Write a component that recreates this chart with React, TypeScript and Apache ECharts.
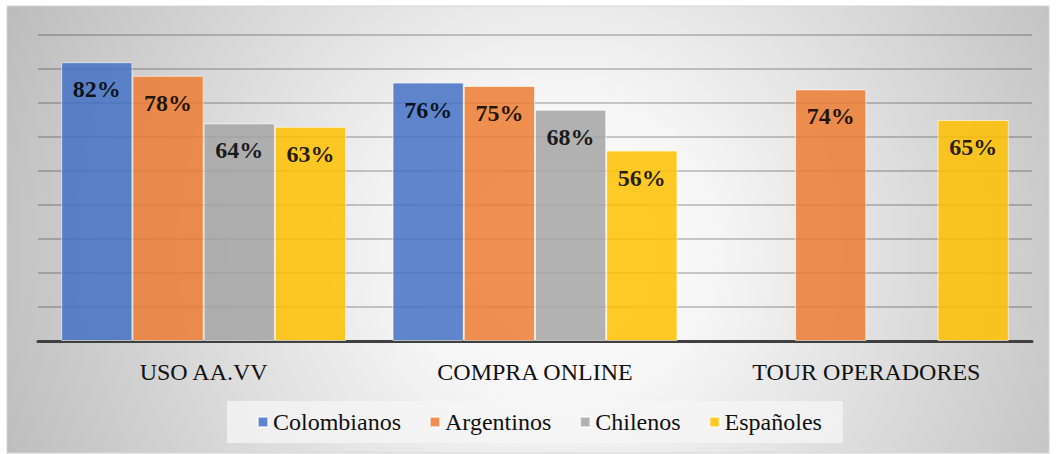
import React, { useEffect, useRef } from "react";
import * as echarts from "echarts";

const categories = ["USO AA.VV", "COMPRA ONLINE", "TOUR OPERADORES"];
const colombianos = [82, 76, null];
const argentinos = [78, 75, 74];
const chilenos = [64, 68, null];
const espanoles = [63, 56, 65];
const seriesNames = ["Colombianos", "Argentinos", "Chilenos", "Españoles"];
const colors = ["#4472C4", "#ED7D31", "#A5A5A5", "#FFC000"];

const FONT = "Liberation Serif";

export default function App() {
  const ref = useRef<HTMLDivElement>(null);
  useEffect(() => {
    document.body.style.margin = "0";
    const chart = echarts.init(ref.current!, null, { renderer: "svg" });
    const data = [colombianos, argentinos, chilenos, espanoles];
    chart.setOption({
      animation: false,
      textStyle: { fontFamily: FONT },
      graphic: [
        {
          type: "rect",
          z: -10,
          silent: true,
          shape: { x: 7, y: 6, width: 1042, height: 447 },
          style: {
            fill: new echarts.graphic.RadialGradient(560, 250, 620, [
              { offset: 0, color: "#ffffff" },
              { offset: 0.25, color: "#f6f6f6" },
              { offset: 1, color: "#bababa" },
            ], true),
            stroke: "#d4d4d4",
            lineWidth: 1,
          },
        },
      ],
      grid: { left: 38, right: 24, top: 35, bottom: 113 },
      legend: {
        data: seriesNames,
        bottom: 11,
        left: 227,
        itemWidth: 10,
        itemHeight: 10,
        itemGap: 28,
        icon: "rect",
        padding: [9, 21, 9, 30],
        backgroundColor: "rgba(246,246,246,0.75)",
        textStyle: { fontFamily: FONT, fontSize: 24, color: "#111" },
      },
      xAxis: {
        type: "category",
        data: categories,
        axisLine: { lineStyle: { color: "#404040", width: 3 } },
        axisTick: { show: false },
        axisLabel: { fontFamily: FONT, fontSize: 24, color: "#111", margin: 19 },
      },
      yAxis: {
        type: "value",
        min: 0,
        max: 90,
        interval: 10,
        axisLabel: { show: false },
        axisLine: { show: false },
        axisTick: { show: false },
        splitLine: { lineStyle: { color: "rgba(0,0,0,0.2)", width: 2 } },
      },
      series: seriesNames.map((name, i) => ({
        name,
        type: "bar",
        data: data[i],
        barGap: "0%",
        barCategoryGap: "14%",
        itemStyle: {
          color: colors[i],
          opacity: 0.85,
          borderColor: "rgba(255,255,255,0.7)",
          borderWidth: 1,
        },
        label: {
          show: true,
          position: "insideTop",
          distance: 15,
          formatter: "{c}%",
          fontFamily: FONT,
          fontSize: 24,
          fontWeight: "bold",
          color: "#000",
        },
      })),
    });
    return () => chart.dispose();
  }, []);
  return <div ref={ref} style={{ width: 1056, height: 454 }} />;
}
